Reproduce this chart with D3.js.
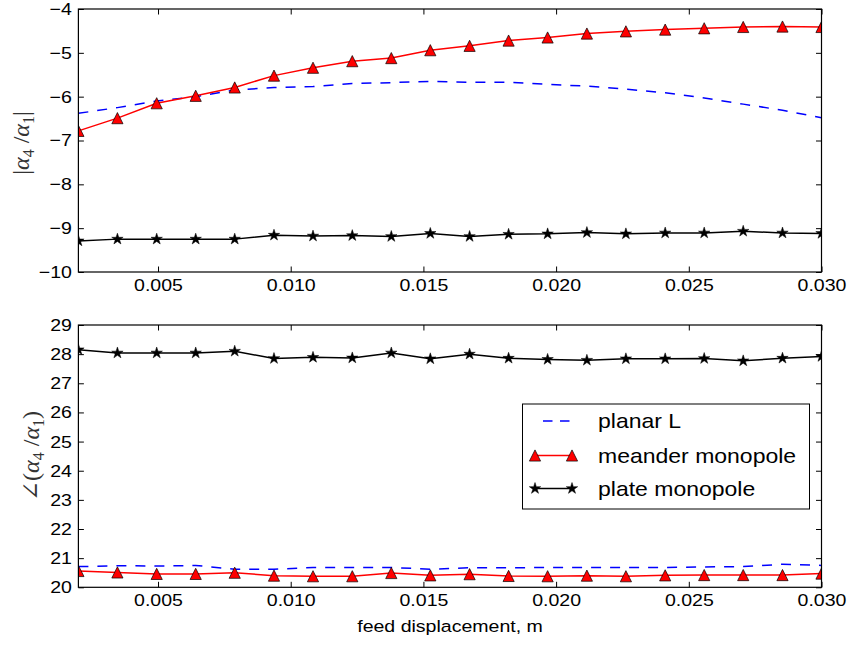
<!DOCTYPE html>
<html>
<head>
<meta charset="utf-8">
<script src="https://cdn.jsdelivr.net/npm/d3@7"></script>
<style>
  html, body { margin: 0; padding: 0; background: #fff; }
  svg { display: block; font-family: "Liberation Sans", Arial, sans-serif; }
</style>
</head>
<body>
<svg id="chart" width="849" height="645"></svg>
<script>
// Feed displacement (m)
const feedDisplacement = [0.00200, 0.00347, 0.00495, 0.00642, 0.00789, 0.00937, 0.01084, 0.01232, 0.01379, 0.01526,
                          0.01674, 0.01821, 0.01968, 0.02116, 0.02263, 0.02411, 0.02558, 0.02705, 0.02853, 0.03000];

// |α4/α1| per antenna
const magPlanarL  = [-6.38, -6.25, -6.10, -6.00, -5.85, -5.79, -5.77, -5.70, -5.68, -5.65,
                     -5.67, -5.67, -5.72, -5.76, -5.83, -5.91, -6.03, -6.17, -6.31, -6.48];
const magMeander  = [-6.78, -6.49, -6.15, -5.98, -5.79, -5.52, -5.34, -5.19, -5.12, -4.94,
                     -4.84, -4.72, -4.65, -4.56, -4.51, -4.47, -4.44, -4.41, -4.40, -4.41];
const magPlate    = [-9.29, -9.25, -9.25, -9.25, -9.25, -9.16, -9.18, -9.17, -9.19, -9.12,
                     -9.19, -9.14, -9.13, -9.10, -9.13, -9.11, -9.11, -9.07, -9.11, -9.12];

// ∠(α4/α1) per antenna
const angPlanarL  = [20.71, 20.74, 20.73, 20.75, 20.62, 20.62, 20.68, 20.68, 20.68, 20.62,
                     20.67, 20.67, 20.68, 20.68, 20.68, 20.68, 20.70, 20.71, 20.79, 20.75];
const angMeander  = [20.56, 20.51, 20.46, 20.46, 20.50, 20.40, 20.38, 20.38, 20.49, 20.41,
                     20.45, 20.39, 20.38, 20.40, 20.38, 20.41, 20.42, 20.42, 20.42, 20.47];
const angPlate    = [28.15, 28.04, 28.04, 28.04, 28.10, 27.85, 27.89, 27.87, 28.04, 27.84,
                     28.00, 27.86, 27.82, 27.79, 27.84, 27.84, 27.85, 27.77, 27.86, 27.92];

const xTicks = [0.005, 0.010, 0.015, 0.020, 0.025, 0.030];
const magTicks = [-10, -9, -8, -7, -6, -5, -4];
const angTicks = [20, 21, 22, 23, 24, 25, 26, 27, 28, 29];
const seriesNames = ["planar L", "meander monopole", "plate monopole"];

const svg = d3.select("#chart");
const FONT = 17;
const TICK = 5.5;
const WIDEN = 1.15;   // glyphs are set slightly wide

const left = 78.4, right = 821.5;
const x = d3.scaleLinear().domain([0.002, 0.030]).range([left, right]);

// widen a text element horizontally around its own anchor point
function widen(sel) {
  sel.each(function () {
    const t = d3.select(this);
    const tx = +t.attr("x") || 0, ty = +t.attr("y") || 0;
    t.attr("x", 0).attr("y", 0).attr("transform", `translate(${tx},${ty}) scale(${WIDEN},1)`);
  });
}

// marker shapes
const triPath = (r) => `M0,${-r}L${r},${r}L${-r},${r}Z`;
function starPath(R) {
  const r = R * 0.382;
  let p = "";
  for (let i = 0; i < 10; i++) {
    const a = -Math.PI / 2 + i * Math.PI / 5;
    const rr = i % 2 === 0 ? R : r;
    p += (i === 0 ? "M" : "L") + (rr * Math.cos(a)).toFixed(2) + "," + (rr * Math.sin(a)).toFixed(2);
  }
  return p + "Z";
}

const styles = [
  { color: "#0000ff", dash: "10,9", marker: null },
  { color: "#ff0000", dash: null, marker: "tri" },
  { color: "#000000", dash: null, marker: "star" }
];

function drawMarker(g, kind, cx, cy) {
  if (kind === "tri") {
    g.append("path").attr("d", triPath(5.6)).attr("transform", `translate(${cx},${cy})`)
      .attr("fill", "#ff0000").attr("stroke", "#000").attr("stroke-width", 0.7);
  } else if (kind === "star") {
    g.append("path").attr("d", starPath(6)).attr("transform", `translate(${cx},${cy})`)
      .attr("fill", "#000").attr("stroke", "#000").attr("stroke-width", 0.5);
  }
}

function panel(id, top, bottom, domain, yTicks, seriesList) {
  const y = d3.scaleLinear().domain(domain).range([bottom, top]);
  const g = svg.append("g");

  g.append("clipPath").attr("id", "clip-" + id)
    .append("rect").attr("x", left).attr("y", top).attr("width", right - left).attr("height", bottom - top);

  const plot = g.append("g").attr("clip-path", `url(#clip-${id})`);
  const line = d3.line().x((d, i) => x(feedDisplacement[i])).y(d => y(d));

  seriesList.forEach((vals, k) => {
    const s = styles[k];
    const p = plot.append("path").datum(vals).attr("d", line)
      .attr("fill", "none").attr("stroke", s.color).attr("stroke-width", 1.5)
      .attr("stroke-linejoin", "round");
    if (s.dash) p.attr("stroke-dasharray", s.dash);
    if (s.marker) vals.forEach((v, i) => drawMarker(plot, s.marker, x(feedDisplacement[i]), y(v)));
  });

  // axes with inward ticks on all four sides
  const fmtY = d => d3.format("d")(d).replace("-", "\u2212");
  const axL = g.append("g").attr("transform", `translate(${left},0)`)
    .call(d3.axisLeft(y).tickValues(yTicks).tickSize(-TICK).tickPadding(6.5).tickFormat(fmtY));
  const axR = g.append("g").attr("transform", `translate(${right},0)`)
    .call(d3.axisRight(y).tickValues(yTicks).tickSize(-TICK).tickFormat(""));
  const axB = g.append("g").attr("transform", `translate(0,${bottom})`)
    .call(d3.axisBottom(x).tickValues(xTicks).tickSize(-TICK).tickPadding(6.5).tickFormat(d3.format(".3f")));
  const axT = g.append("g").attr("transform", `translate(0,${top})`)
    .call(d3.axisTop(x).tickValues(xTicks).tickSize(-TICK).tickFormat(""));

  [axL, axR, axB, axT].forEach(a => {
    a.select(".domain").remove();
    a.selectAll(".tick line").attr("stroke", "#000").attr("stroke-width", 1);
    a.selectAll(".tick text").attr("fill", "#000").attr("font-size", FONT)
      .attr("font-family", "Liberation Sans, Arial, sans-serif");
  });
  widen(axL.selectAll(".tick text"));
  widen(axB.selectAll(".tick text"));

  g.append("rect").attr("x", left).attr("y", top).attr("width", right - left).attr("height", bottom - top)
    .attr("fill", "none").attr("stroke", "#000").attr("stroke-width", 1.2);

  return { g, y };
}

panel("mag", 9, 272, [-10, -4], magTicks, [magPlanarL, magMeander, magPlate]);
panel("ang", 325, 587.3, [20, 29], angTicks, [angPlanarL, angMeander, angPlate]);

// y-axis labels (math style)
function mathLabel(cx, cy, prefix, closing) {
  const t = svg.append("text")
    .attr("transform", `translate(${cx},${cy}) rotate(-90)`)
    .attr("text-anchor", "middle")
    .attr("font-family", "Liberation Serif, DejaVu Serif, serif")
    .attr("font-size", 24).attr("fill", "#333");
  t.append("tspan").text(prefix);
  t.append("tspan").attr("font-style", "italic").text("\u03b1");
  t.append("tspan").attr("font-size", 16).attr("dy", 5).text("4");
  t.append("tspan").attr("dy", -5).text(" /");
  t.append("tspan").attr("font-style", "italic").text("\u03b1");
  t.append("tspan").attr("font-size", 16).attr("dy", 5).text("1");
  t.append("tspan").attr("dy", -5).text(closing);
  return t;
}
mathLabel(29, 143, "|", "|");
mathLabel(39, 456, "\u2220(", ")");

// x-axis label
svg.append("text").attr("x", 450).attr("y", 632).attr("text-anchor", "middle")
  .attr("font-size", FONT).attr("fill", "#000").text("feed displacement, m")
  .call(widen);

// legend
const lg = svg.append("g");
lg.append("rect").attr("x", 522.5).attr("y", 404).attr("width", 287).attr("height", 105)
  .attr("fill", "#fff").attr("stroke", "#000").attr("stroke-width", 1);
const rowY = [421, 455.5, 488.5];
seriesNames.forEach((name, k) => {
  const s = styles[k];
  if (s.dash) {
    lg.append("line").attr("x1", 543).attr("x2", 570).attr("y1", rowY[k]).attr("y2", rowY[k])
      .attr("stroke", s.color).attr("stroke-width", 1.5).attr("stroke-dasharray", "9.5,7.5");
  } else {
    lg.append("line").attr("x1", 535).attr("x2", 572).attr("y1", rowY[k]).attr("y2", rowY[k])
      .attr("stroke", s.color).attr("stroke-width", 1.5);
  }
  if (s.marker) { drawMarker(lg, s.marker, 535, rowY[k]); drawMarker(lg, s.marker, 572, rowY[k]); }
  lg.append("text").attr("x", 598).attr("y", rowY[k] + 7)
    .attr("font-size", 20).attr("fill", "#000").text(name)
    .call(widen);
});
</script>
</body>
</html>
